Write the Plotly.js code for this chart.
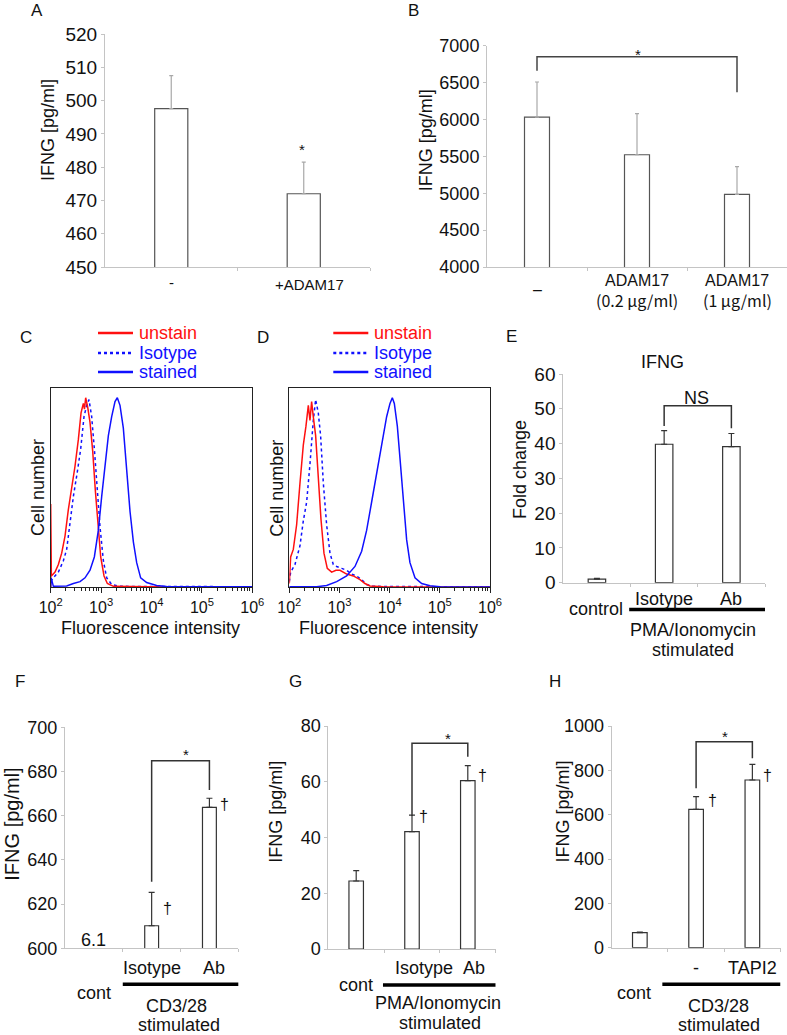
<!DOCTYPE html>
<html><head><meta charset="utf-8">
<script src="https://cdn.plot.ly/plotly-3.0.1.min.js"></script>
<style>html,body{margin:0;padding:0;background:#fff}#chart{width:787px;height:1035px}</style>
</head><body><div id="chart"></div>
<script>
// ---------------- DATA ----------------
// Panel A
const catsA = ['-', '+ADAM17'];
const valsA = [497.6, 472.0];
const errA  = [9.9, 9.5];
// Panel B
const catsB = ['–', 'ADAM17', 'ADAM17'];
const subB  = ['', '(0.2 μg/ml)', '(1 μg/ml)'];
const valsB = [6033, 5522, 4985];
const errB  = [475, 556, 375];
const bracketB = {from:0, to:2, top:6851, left:6660, right:6368, label:'*'};
// Panel C histograms (x = log10 fluorescence, y = relative cell number)
const cUnstainX = [2.000,2.000,2.013,2.086,2.152,2.218,2.284,2.350,2.417,2.483,2.549,2.602,2.648,2.670,2.694,2.715,2.734,2.780,2.833,2.886,2.939,2.992,3.058,3.124,3.243,3.640,4.300,6.000];
const cUnstainY = [0,44,6,8,12,18,27,41,52,64,78,92,97,94,100,96,95,87,72,51,31,16,6,2,0.5,0.3,0.2,0.2];
const cIsoX = [2.000,2.053,2.152,2.251,2.317,2.384,2.450,2.529,2.595,2.661,2.714,2.760,2.813,2.866,2.926,2.978,3.045,3.111,3.210,3.375,6.000];
const cIsoY = [3,5,8,14,20,35,48,61,73,90,96,99,90,73,52,32,14,5,1.5,0.5,0.3];
const cStainX = [2.000,2.010,2.053,2.317,2.450,2.582,2.681,2.780,2.866,2.945,3.012,3.078,3.144,3.210,3.276,3.322,3.375,3.441,3.507,3.574,3.640,3.706,3.785,3.904,4.102,4.300,6.000];
const cStainY = [0,5,0.5,0.7,2,3,5,9,16,30,48,65,80,90,98,100,96,84,60,40,24,13,5,2.5,1,0.4,0.3];
// Panel D histograms
const dUnstainX = [2.000,2.027,2.080,2.146,2.213,2.279,2.332,2.379,2.412,2.445,2.478,2.525,2.578,2.631,2.691,2.757,2.844,2.930,3.010,3.143,3.276,3.409,3.508,3.608,3.874,6.000];
const dUnstainY = [2,16,20,33,55,75,85,96,88,98,90,80,58,36,18,10,8,9,9,7,6,4,2,0.7,0.3,0.2];
const dIsoX = [2.000,2.027,2.113,2.213,2.279,2.346,2.412,2.478,2.525,2.578,2.624,2.678,2.744,2.811,2.877,2.944,3.043,3.143,3.243,3.342,3.442,3.541,3.674,6.000];
const dIsoY = [3,8,12,22,35,45,65,88,99,92,80,55,33,18,12,11,10,9,7,6,4,1.5,0.5,0.2];
const dStainX = [2.000,2.545,2.744,2.944,3.143,3.309,3.442,3.541,3.641,3.741,3.841,3.940,4.007,4.053,4.093,4.153,4.206,4.272,4.339,4.405,4.505,4.638,4.804,5.003,6.000];
const dStainY = [0.3,0.3,1,3,6,11,19,30,45,60,75,90,97,100,97,85,68,45,25,13,5,2,0.8,0.3,0.2];
const histTickVals = [100, 1000, 10000, 100000, 1000000];
const histTickText = ['10<sup>2</sup>','10<sup>3</sup>','10<sup>4</sup>','10<sup>5</sup>','10<sup>6</sup>'];
const legendNames = ['unstain', 'Isotype', 'stained'];
// Panel E
const catsE = ['control', 'Isotype', 'Ab'];
const valsE = [1.0, 39.8, 39.1];
const errE  = [0.25, 3.9, 3.8];
const bracketE = {from:1, to:2, top:50.9, left:45.05, right:44.4, label:'NS'};
// Panel F
const catsF = ['cont', 'Isotype', 'Ab'];
const valsF = [6.1, 610.2, 663.8];
const errF  = [NaN, 15.1, 4.1];
const bracketF = {from:1, to:2, top:684.9, left:630.1, right:671.6, label:'*'};
// Panel G
const catsG = ['cont', 'Isotype', 'Ab'];
const valsG = [24.4, 42.1, 60.4];
const errG  = [3.7, 5.9, 5.4];
const bracketG = {from:1, to:2, top:73.8, left:47.7, right:69.0, label:'*'};
// Panel H
const catsH = ['cont', '-', 'TAPI2'];
const valsH = [67.7, 624.3, 756.4];
const errH  = [3.1, 56.7, 70.6];
const bracketH = {from:1, to:2, top:929.2, left:719, right:854, label:'*'};

// ---------------- HELPERS ----------------
const W = 787, H = 1035;
const PX = x => x / W;
const PY = y => 1 - y / H;
const FONT = 'Liberation Sans, Arial, sans-serif';
const TXT = '#111';
const AXC = '#c4c4c4';
const RED = '#ff1010', BLUE = '#1010ff';

const layout = {
  width: W, height: H, margin: {l:0, r:0, t:0, b:0},
  paper_bgcolor: '#fff', plot_bgcolor: 'rgba(0,0,0,0)',
  showlegend: false, font: {family: FONT, color: TXT},
  annotations: [], shapes: []
};
const traces = [];

function axName(n, a) { return n === 1 ? a : a + n; }
function axKey(n, a) { return n === 1 ? a + 'axis' : a + 'axis' + n; }

function barPanel(n, cfg) {
  const nc = cfg.vals.length;
  const bounds = [];
  for (let i = 0; i < nc; i++) bounds.push(i + 0.5);
  layout[axKey(n,'x')] = {
    domain: [PX(cfg.l), PX(cfg.r)], range: [-0.5, nc - 0.5], anchor: axName(n,'y'),
    showline: true, linecolor: AXC, linewidth: 1, tickvals: bounds, ticks: 'outside',
    ticklen: 3, tickcolor: AXC, showticklabels: false, showgrid: false, zeroline: false, fixedrange: true
  };
  layout[axKey(n,'y')] = {
    domain: [PY(cfg.b), PY(cfg.t)], range: cfg.range, dtick: cfg.dtick, tick0: cfg.range[0],
    anchor: axName(n,'x'), showline: true, linecolor: AXC, linewidth: 1, ticks: 'outside',
    ticklen: 3, tickcolor: AXC, tickfont: {size: cfg.tickSize, color: TXT, family: FONT},
    showgrid: false, zeroline: false, fixedrange: true
  };
  const idx = cfg.vals.map((v, i) => i);
  traces.push({
    type: 'bar', x: idx, y: cfg.vals, xaxis: axName(n,'x'), yaxis: axName(n,'y'),
    width: cfg.bw, marker: {color: '#fff', line: {color: cfg.barLine, width: 1.2}},
    error_y: {type: 'data', symmetric: false, array: cfg.err, arrayminus: cfg.err.map(() => 0),
              color: cfg.errColor, thickness: 1.2, width: cfg.capW},
    hoverinfo: 'skip', showlegend: false
  });
}

function bracket(n, b, color, width) {
  const xr = axName(n,'x'), yr = axName(n,'y');
  layout.shapes.push({
    type: 'path', xref: xr, yref: yr,
    path: `M ${b.from},${b.left} L ${b.from},${b.top} L ${b.to},${b.top} L ${b.to},${b.right}`,
    line: {color: color, width: width}
  });
}

function ann(text, x, y, opts) {
  layout.annotations.push(Object.assign({
    text: text, x: PX(x), y: PY(y), xref: 'paper', yref: 'paper', showarrow: false,
    xanchor: 'center', yanchor: 'middle', font: {family: FONT, size: 18, color: TXT}
  }, opts || {}));
}
function annData(n, text, xi, yPix, opts) {
  layout.annotations.push(Object.assign({
    text: text, x: xi, y: PY(yPix), xref: axName(n,'x'), yref: 'paper', showarrow: false,
    xanchor: 'center', yanchor: 'middle', font: {family: FONT, size: 18, color: TXT}
  }, opts || {}));
}
function thickLine(n, x0, x1, yPix) {
  layout.shapes.push({type: 'line', xref: axName(n,'x'), yref: 'paper', x0: x0, x1: x1,
    y0: PY(yPix), y1: PY(yPix), line: {color: '#000', width: 3.5}});
}

// ---------------- PANEL A ----------------
barPanel(1, {l:105, r:370, t:34, b:267, range:[450,520], dtick:10, tickSize:19,
  vals: valsA, err: errA, bw: 0.25, barLine: '#555', errColor: '#a8a8a8', capW: 2});
annData(1, catsA[0], 0, 283, {font:{family:FONT,size:15,color:TXT}});
annData(1, catsA[1], 1, 284, {font:{family:FONT,size:15,color:TXT}, xshift: 6});
ann('IFNG [pg/ml]', 48, 130, {textangle: -90});
ann('*', 301.7, 149, {font:{family:FONT,size:15,color:TXT}});
ann('A', 37, 10, {font:{family:FONT,size:17,color:TXT}});

// ---------------- PANEL B ----------------
barPanel(2, {l:487, r:787, t:45.7, b:267, range:[4000,7000], dtick:500, tickSize:18,
  vals: valsB, err: errB, bw: 0.25, barLine: '#555', errColor: '#a8a8a8', capW: 2});
bracket(2, bracketB, '#444', 1.5);
annData(2, catsB[0], 0, 289, {font:{family:FONT,size:16,color:TXT}});
annData(2, catsB[1], 1, 280, {font:{family:FONT,size:16,color:TXT}});
annData(2, catsB[2], 2, 280, {font:{family:FONT,size:16,color:TXT}});
annData(2, subB[1], 1, 300, {font:{family:'Noto Sans CJK JP, '+FONT,size:16,color:TXT}});
annData(2, subB[2], 2, 300, {font:{family:'Noto Sans CJK JP, '+FONT,size:16,color:TXT}});
ann('IFNG [pg/ml]', 426.7, 140.5, {textangle: -90});
ann('*', 638, 54, {font:{family:FONT,size:15,color:TXT}});
ann('B', 413, 10, {font:{family:FONT,size:17,color:TXT}});

// ---------------- PANELS C, D (histograms) ----------------
function histPanel(n, l, r, series, legX, titleX, letter, letterX, fluoX) {
  layout[axKey(n,'x')] = {
    domain: [PX(l), PX(r)], type: 'log', range: [2, 6], anchor: axName(n,'y'),
    showline: true, mirror: true, linecolor: '#222', linewidth: 1,
    tickvals: histTickVals, ticktext: histTickText, ticks: 'outside', ticklen: 5, tickcolor: '#222',
    tickfont: {size: 16, color: TXT, family: FONT},
    minor: {ticks: 'outside', ticklen: 3, tickcolor: '#222', dtick: 'D1', showgrid: false},
    showgrid: false, zeroline: false, fixedrange: true
  };
  layout[axKey(n,'y')] = {
    domain: [PY(587.3), PY(387.7)], range: [0, 105.3], anchor: axName(n,'x'),
    showline: true, mirror: true, linecolor: '#222', linewidth: 1, ticks: '',
    showticklabels: false, showgrid: false, zeroline: false, fixedrange: true
  };
  const styles = [{color: RED, dash: 'solid'}, {color: BLUE, dash: 'dot'}, {color: BLUE, dash: 'solid'}];
  [1, 0, 2].forEach(k => {
    const s = series[k];
    traces.push({
      type: 'scatter', mode: 'lines', x: s[0].map(v => Math.pow(10, v)), y: s[1],
      xaxis: axName(n,'x'), yaxis: axName(n,'y'),
      line: {color: styles[k].color, width: 1.5, dash: styles[k].dash, shape: 'linear'},
      hoverinfo: 'skip', showlegend: false
    });
  });
  const ly = [333, 353, 372];
  legendNames.forEach((nm, k) => {
    layout.shapes.push({type: 'line', xref: 'paper', yref: 'paper', x0: PX(legX), x1: PX(legX + 35),
      y0: PY(ly[k]), y1: PY(ly[k]), line: {color: styles[k].color, width: 2.5, dash: styles[k].dash}});
    ann(nm, legX + 39, ly[k], {xanchor: 'left', font: {family: FONT, size: 18, color: styles[k].color}});
  });
  ann('Cell number', titleX, 488, {textangle: -90});
  ann('Fluorescence intensity', fluoX, 628);
  ann(letter, letterX, 337, {font:{family:FONT,size:17,color:TXT}});
}
histPanel(3, 50.7, 252.3, [[cUnstainX, cUnstainY], [cIsoX, cIsoY], [cStainX, cStainY]], 98, 38, 'C', 26, 150);
histPanel(4, 289.3, 490, [[dUnstainX, dUnstainY], [dIsoX, dIsoY], [dStainX, dStainY]], 333.3, 276.7, 'D', 263, 388.3);

// ---------------- PANEL E ----------------
barPanel(5, {l:563.3, r:765, t:374, b:582.7, range:[0,60], dtick:10, tickSize:19,
  vals: valsE, err: errE, bw: 0.26, barLine: '#333', errColor: '#333', capW: 3});
bracket(5, bracketE, '#333', 1.5);
annData(5, catsE[1], 1, 599.3);
annData(5, catsE[2], 2, 599.3);
annData(5, catsE[0], 0, 609.3, {xshift: -1});
thickLine(5, 0.48, 2.5, 609.5);
ann('PMA/Ionomycin', 693.3, 630);
ann('stimulated', 693.3, 650);
ann('Fold change', 520, 470, {textangle: -90});
ann('IFNG', 662.3, 361.7);
ann(bracketE.label, 696.7, 398.3);
ann('E', 511.7, 336.7, {font:{family:FONT,size:17,color:TXT}});

// ---------------- PANEL F ----------------
barPanel(6, {l:65, r:238.3, t:727.3, b:948.3, range:[600,700], dtick:20, tickSize:18,
  vals: valsF, err: errF, bw: 0.24, barLine: '#333', errColor: '#333', capW: 3});
bracket(6, bracketF, '#333', 1.5);
annData(6, String(valsF[0]), 0, 940);
annData(6, catsF[1], 1, 968.3);
annData(6, catsF[2], 2, 968.3, {xshift: 5});
annData(6, catsF[0], 0, 993.3);
thickLine(6, 0.5, 2.52, 984.3);
ann('CD3/28', 176.7, 1006);
ann('stimulated', 179.3, 1024.5);
ann('IFNG [pg/ml]', 11.7, 824, {textangle: -90, font:{family:FONT,size:20,color:TXT}});
ann('*', 186, 754, {font:{family:FONT,size:15,color:TXT}});
ann('†', 167.7, 908.3, {font:{family:FONT,size:16,color:TXT}});
ann('†', 224, 804, {font:{family:FONT,size:16,color:TXT}});
ann('F', 20, 681.7, {font:{family:FONT,size:17,color:TXT}});

// ---------------- PANEL G ----------------
barPanel(7, {l:328.3, r:495.7, t:726, b:949, range:[0,80], dtick:20, tickSize:18,
  vals: valsG, err: errG, bw: 0.26, barLine: '#333', errColor: '#333', capW: 3});
bracket(7, bracketG, '#333', 1.5);
annData(7, catsG[1], 1, 968.3, {xshift: 12});
annData(7, catsG[2], 2, 968.3, {xshift: 6});
annData(7, catsG[0], 0, 985);
thickLine(7, 0.48, 2.5, 985);
ann('PMA/Ionomycin', 438.3, 1003.3);
ann('stimulated', 440, 1022.5);
ann('IFNG [pg/ml]', 276, 811.7, {textangle: -90});
ann('*', 448.3, 738, {font:{family:FONT,size:15,color:TXT}});
ann('†', 423.3, 816.7, {font:{family:FONT,size:16,color:TXT}});
ann('†', 482.7, 775, {font:{family:FONT,size:16,color:TXT}});
ann('G', 295, 681.7, {font:{family:FONT,size:17,color:TXT}});

// ---------------- PANEL H ----------------
barPanel(8, {l:611.7, r:780.5, t:726, b:947.7, range:[0,1000], dtick:200, tickSize:18,
  vals: valsH, err: errH, bw: 0.26, barLine: '#333', errColor: '#333', capW: 3});
bracket(8, bracketH, '#333', 1.5);
annData(8, catsH[1], 1, 968.3);
annData(8, catsH[2], 2, 968.3);
annData(8, catsH[0], 0, 993.3, {xshift: -6});
thickLine(8, 0.4, 2.5, 984.3);
ann('CD3/28', 718.3, 1006);
ann('stimulated', 719.3, 1024.5);
ann('IFNG [pg/ml]', 562.7, 811.7, {textangle: -90});
ann('*', 725, 736, {font:{family:FONT,size:15,color:TXT}});
ann('†', 712.3, 800, {font:{family:FONT,size:16,color:TXT}});
ann('†', 767.3, 775, {font:{family:FONT,size:16,color:TXT}});
ann('H', 555, 681.7, {font:{family:FONT,size:17,color:TXT}});

Plotly.newPlot('chart', traces, layout, {staticPlot: true, displayModeBar: false});
</script>
</body></html>
